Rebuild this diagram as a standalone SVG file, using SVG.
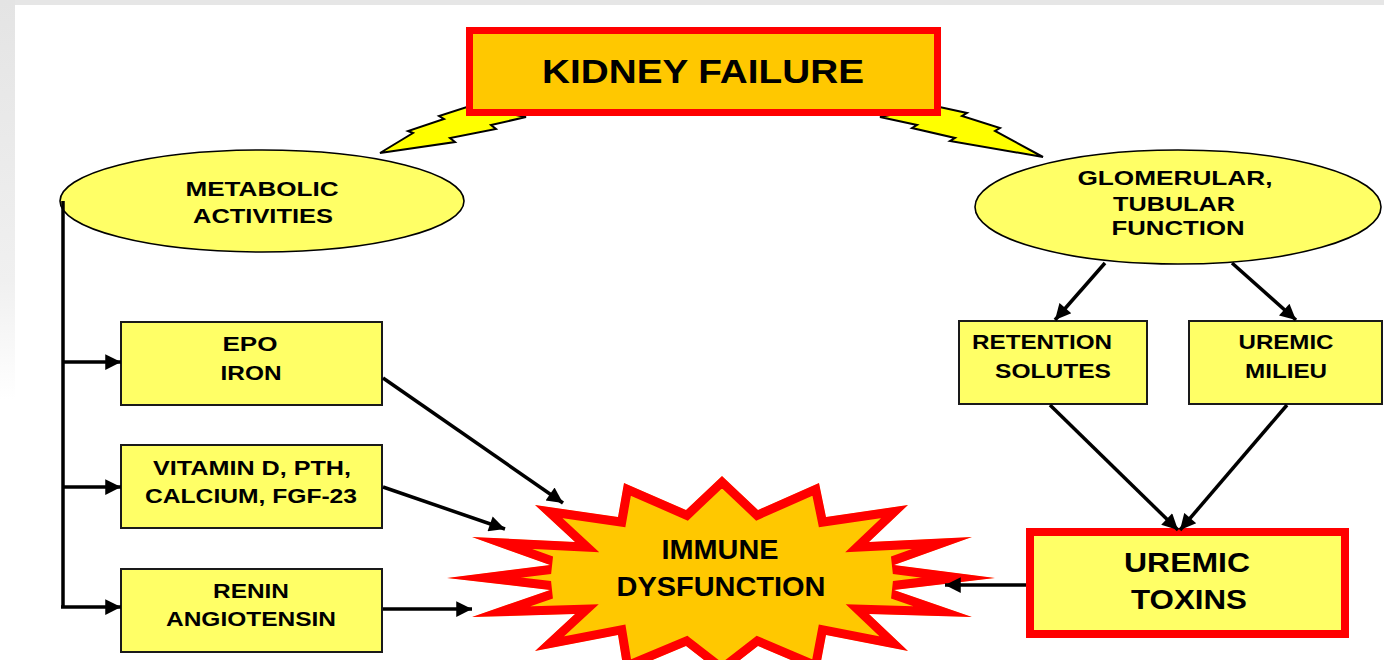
<svg xmlns="http://www.w3.org/2000/svg" width="1384" height="660" viewBox="0 0 1384 660">
<defs>
<linearGradient id="leftfade" x1="0" y1="0" x2="0" y2="1">
<stop offset="0" stop-color="#e4e4e4"/>
<stop offset="0.7" stop-color="#f0f0f0"/>
<stop offset="1" stop-color="#ffffff"/>
</linearGradient>
<polygon id="starShape" points="722,476 758,510 819,483 826,517 908,505 869,542 972,537 894,565 995,578 894,590 972,617 869,614 908,651 826,635 819,672 758,646 722,674 686,646 624,672 618,635 535,651 575,614 472,617 550,590 447,578 550,565 472,537 575,542 535,505 618,517 624,483 686,510"/>
<clipPath id="starClip"><use href="#starShape"/></clipPath>
<marker id="ah" viewBox="0 0 10 10" refX="10" refY="5" markerWidth="5" markerHeight="4.5" orient="auto" markerUnits="strokeWidth">
<path d="M0,0 L10,5 L0,10 z" fill="#000"/>
</marker>
<style>
text{font-family:"Liberation Sans",Arial,sans-serif;font-weight:bold;fill:#000;text-anchor:middle}
.s{font-size:20px}
.m{font-size:21px}
.l{font-size:27px}
.xl{font-size:33px}
.box{fill:#ffff66;stroke:#1a1a1a;stroke-width:2}
.ell{fill:#ffff66;stroke:#000;stroke-width:1.6}
.bolt{fill:#ffff00;stroke:#000;stroke-width:2;stroke-linejoin:miter}
.con{stroke:#000;stroke-width:3.5;fill:none}
.arr{stroke:#000;stroke-width:3.5;fill:none;marker-end:url(#ah)}
</style>
</defs>
<rect width="1384" height="660" fill="#fff"/>
<rect x="0" y="0" width="1384" height="5" fill="#e6e6e6"/>
<rect x="0" y="0" width="15" height="400" fill="url(#leftfade)"/>

<g id="bolts">
<polygon class="bolt" points="380,153 413,133 408,131 444,119 439,116 470,106 526,117 491,125 496,129 450,138 455,142"/>
<polygon class="bolt" points="1043,157 995,131 1000,128 962,116 967,113 935,106 880,117 917,125 912,128 955,138 950,141"/>
</g>

<g id="kidney-failure">
<rect x="469.5" y="30.5" width="468" height="82" fill="#ffc800" stroke="#ff0000" stroke-width="7"/>
<text class="xl" x="703" y="83" textLength="322" lengthAdjust="spacingAndGlyphs">KIDNEY FAILURE</text>
</g>

<g id="metabolic-activities">
<ellipse class="ell" cx="262" cy="201" rx="202" ry="51"/>
<text class="m" x="262" y="196" textLength="153" lengthAdjust="spacingAndGlyphs">METABOLIC</text>
<text class="m" x="263" y="223" textLength="140" lengthAdjust="spacingAndGlyphs">ACTIVITIES</text>
</g>

<g id="glomerular-tubular-function">
<ellipse class="ell" cx="1178" cy="207" rx="203" ry="57"/>
<text class="s" x="1175" y="185" textLength="195" lengthAdjust="spacingAndGlyphs">GLOMERULAR,</text>
<text class="s" x="1174" y="211" textLength="122" lengthAdjust="spacingAndGlyphs">TUBULAR</text>
<text class="s" x="1178" y="235" textLength="133" lengthAdjust="spacingAndGlyphs">FUNCTION</text>
</g>

<g id="epo-iron">
<rect class="box" x="121" y="322" width="261" height="83"/>
<text class="s" x="250" y="351" textLength="55" lengthAdjust="spacingAndGlyphs">EPO</text>
<text class="s" x="251" y="380" textLength="61" lengthAdjust="spacingAndGlyphs">IRON</text>
</g>

<g id="vitamin-d">
<rect class="box" x="121" y="445" width="261" height="83"/>
<text class="s" x="252" y="475" textLength="198" lengthAdjust="spacingAndGlyphs">VITAMIN D, PTH,</text>
<text class="s" x="251" y="503" textLength="212" lengthAdjust="spacingAndGlyphs">CALCIUM, FGF-23</text>
</g>

<g id="renin-angiotensin">
<rect class="box" x="121" y="569" width="261" height="83"/>
<text class="s" x="251" y="598" textLength="76" lengthAdjust="spacingAndGlyphs">RENIN</text>
<text class="s" x="251" y="626" textLength="170" lengthAdjust="spacingAndGlyphs">ANGIOTENSIN</text>
</g>

<g id="retention-solutes">
<rect class="box" x="959" y="321" width="188" height="83"/>
<text class="s" x="1042" y="349" textLength="140" lengthAdjust="spacingAndGlyphs">RETENTION</text>
<text class="s" x="1053" y="378" textLength="116" lengthAdjust="spacingAndGlyphs">SOLUTES</text>
</g>

<g id="uremic-milieu">
<rect class="box" x="1189" y="321" width="193" height="83"/>
<text class="s" x="1286" y="349" textLength="95" lengthAdjust="spacingAndGlyphs">UREMIC</text>
<text class="s" x="1286" y="378" textLength="82" lengthAdjust="spacingAndGlyphs">MILIEU</text>
</g>

<g id="uremic-toxins">
<rect x="1030" y="532" width="315" height="102" fill="#ffff66" stroke="#ff0000" stroke-width="8"/>
<text class="l" x="1187" y="572" textLength="126" lengthAdjust="spacingAndGlyphs">UREMIC</text>
<text class="l" x="1189" y="609" textLength="116" lengthAdjust="spacingAndGlyphs">TOXINS</text>
</g>

<g id="immune-dysfunction">
<use href="#starShape" fill="#ffc800" stroke="#ff0000" stroke-width="18" stroke-linejoin="miter" clip-path="url(#starClip)"/>
<text class="l" x="720" y="559" textLength="117" lengthAdjust="spacingAndGlyphs">IMMUNE</text>
<text class="l" x="721" y="596" textLength="209" lengthAdjust="spacingAndGlyphs">DYSFUNCTION</text>
</g>

<g id="connectors">
<polyline class="con" points="63,201 63,607"/>
<line class="arr" x1="63" y1="362" x2="121" y2="362"/>
<line class="arr" x1="63" y1="487" x2="121" y2="487"/>
<line class="arr" x1="61" y1="607" x2="121" y2="607"/>
<line class="arr" x1="383" y1="378" x2="563" y2="503"/>
<line class="arr" x1="383" y1="487" x2="505" y2="529"/>
<line class="arr" x1="383" y1="609" x2="472" y2="609"/>
<line class="arr" x1="1026" y1="585" x2="945" y2="585"/>
<line class="arr" x1="1105" y1="263" x2="1055" y2="320"/>
<line class="arr" x1="1232" y1="263" x2="1296" y2="320"/>
<line class="arr" x1="1050" y1="405" x2="1178" y2="530"/>
<line class="arr" x1="1287" y1="405" x2="1180" y2="530"/>
</g>
</svg>
